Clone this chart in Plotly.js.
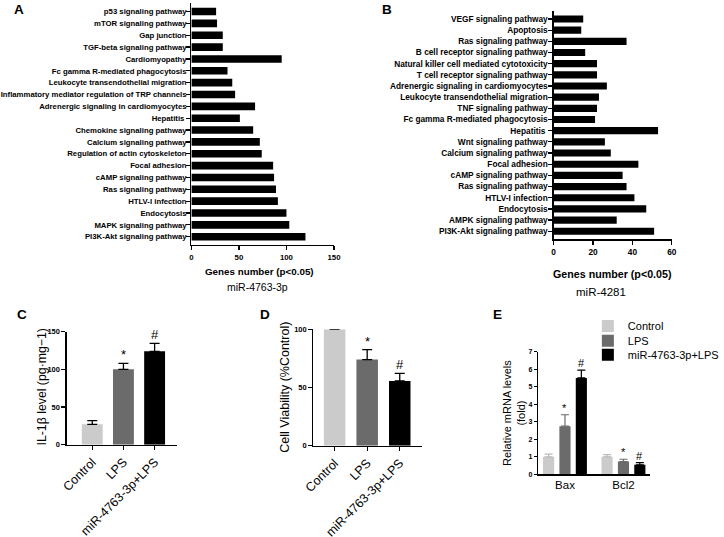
<!DOCTYPE html>
<html><head><meta charset="utf-8">
<script src="https://cdn.plot.ly/plotly-3.0.1.min.js"></script>
<style>html,body{margin:0;padding:0;background:#fff}#chart{width:724px;height:537px}</style>
</head><body><div id="chart"></div><script>
// ---- Panel A data (miR-4763-3p) ----
const pathwaysA = ["p53 signaling pathway","mTOR signaling pathway","Gap junction","TGF-beta signaling pathway","Cardiomyopathy","Fc gamma R-mediated phagocytosis","Leukocyte transendothelial migration","Inflammatory mediator regulation of TRP channels","Adrenergic signaling in cardiomyocytes","Hepatitis\u00a0","Chemokine signaling pathway","Calcium signaling pathway","Regulation of actin cytoskeleton","Focal adhesion","cAMP signaling pathway","Ras signaling pathway","HTLV-I infection","Endocytosis","MAPK signaling pathway","PI3K-Akt signaling pathway"];
const genesA = [26,27,33,33,95,38,43,46,67,51,65,72,74,86,87,89,91,100,103,120];
const ticksA = [0,50,100,150];
// ---- Panel B data (miR-4281) ----
const pathwaysB = ["VEGF signaling pathway","Apoptosis","Ras signaling pathway","B cell receptor signaling pathway","Natural killer cell mediated cytotoxicity","T cell receptor signaling pathway","Adrenergic signaling in cardiomyocytes","Leukocyte transendothelial migration","TNF signaling pathway","Fc gamma R-mediated phagocytosis","Hepatitis\u00a0","Wnt signaling pathway","Calcium signaling pathway","Focal adhesion","cAMP signaling pathway","Ras signaling pathway","HTLV-I infection","Endocytosis","AMPK signaling pathway","PI3K-Akt signaling pathway"];
const genesB = [15,14,37,16,22,22,27,23,22,21,53,26,29,43,35,37,41,47,32,51];
const ticksB = [0,20,40,60];
// ---- Panels C, D ----
const groups = ["Control","LPS","miR-4763-3p+LPS"];
const il1b = [27,100,124];
const il1bErr = [5,8,10.5];
const il1bMarks = ["","*","#"];
const viability = [100,74,55.6];
const viabilityErr = [0,8.6,6.6];
const viabilityMarks = ["","*","#"];
// ---- Panel E ----
const genesE = ["Bax","Bcl2"];
const seriesE = ["Control","LPS","miR-4763-3p+LPS"];
const mrna = [[1.0,1.0],[2.75,0.73],[5.5,0.54]];
const mrnaErr = [[0.15,0.12],[0.65,0.13],[0.45,0.13]];
const mrnaMarks = [["",""],["*","*"],["#","#"]];

const colors = ["#cbcbcb","#6b6b6b","#000000"];
const FF = "Liberation Sans, Arial, sans-serif";
const W = 724, H = 537;
const px = v => v / W, py = v => 1 - v / H;

const traces = [];
traces.push({type:'bar', orientation:'h', x:genesA, y:pathwaysA.map((_,i)=>i), width:0.64,
  marker:{color:'#000'}, xaxis:'x', yaxis:'y', showlegend:false, hoverinfo:'x+text', text:pathwaysA, textposition:'none'});
traces.push({type:'bar', orientation:'h', x:genesB, y:pathwaysB.map((_,i)=>i), width:0.64,
  marker:{color:'#000'}, xaxis:'x2', yaxis:'y2', showlegend:false, hoverinfo:'x+text', text:pathwaysB, textposition:'none'});
traces.push({type:'bar', x:groups, y:il1b, width:0.67, marker:{color:colors},
  error_y:{type:'data', symmetric:false, array:il1bErr, arrayminus:il1bErr.map(()=>0), color:'#000', thickness:1.3, width:5},
  xaxis:'x3', yaxis:'y3', showlegend:false});
traces.push({type:'bar', x:groups, y:viability, width:0.66, marker:{color:colors},
  error_y:{type:'data', symmetric:false, array:viabilityErr, arrayminus:viabilityErr.map(()=>0), color:'#000', thickness:1.3, width:5},
  xaxis:'x4', yaxis:'y4', showlegend:false});
const legendIds = ['legend','legend2','legend3'];
seriesE.forEach((s,t)=>{
  traces.push({type:'bar', name:s, x:genesE, y:mrna[t], marker:{color:colors[t]}, legend:legendIds[t], showlegend:true,
    error_y:{type:'data', symmetric:false, array:mrnaErr[t], arrayminus:mrnaErr[t].map(()=>0), color:colors[t]==='#cbcbcb'?'#bbbbbb':colors[t], thickness:1.2, width:4},
    xaxis:'x5', yaxis:'y5'});
});

const bargap = 0.16;
const ann = [];
function txt(text,x,y,size,opts){ ann.push(Object.assign({text:text, x:px(x), y:py(y), xref:'paper', yref:'paper', xanchor:'center', yanchor:'middle', showarrow:false, font:{family:FF,size:size,color:'#000'}}, opts||{})); }
const bold = s => ({font:{family:FF,size:s,color:'#000',weight:'bold'}});
txt("A",19,9,13.5,bold(13.5));
txt("B",396,9,13.5,bold(13.5));
txt("C",23,314,13.5,bold(13.5));
txt("D",271,314,13.5,bold(13.5));
txt("E",509,314,13.5,bold(13.5));
txt("Genes number (p<0.05)",266,271.5,9.8,bold(9.8));
txt("miR-4763-3p",264,286.5,10.5);
txt("Genes number (p<0.05)",627.5,274.3,10.7,bold(10.7));
txt("miR-4281",615,291.7,11.5);
txt("IL-1β level (pg·mg−1)",42,387.5,12.3,{textangle:-90});
txt("Cell Viability (%Control)",291,387.5,12.5,{textangle:-90});
txt("Relative mRNA levels<br>(fold)",525.8,412.5,11,{textangle:-90});

il1bMarks.forEach((m,i)=>{ if(m) ann.push({text:m, x:i, y:il1b[i]+il1bErr[i], xref:'x3', yref:'y3', xanchor:'center', yanchor:'bottom', showarrow:false, yshift:-1, font:{family:FF,size:13,color:'#000'}}); });
viabilityMarks.forEach((m,i)=>{ if(m) ann.push({text:m, x:i, y:viability[i]+viabilityErr[i], xref:'x4', yref:'y4', xanchor:'center', yanchor:'bottom', showarrow:false, yshift:-1, font:{family:FF,size:13,color:'#000'}}); });
mrnaMarks.forEach((row,t)=>row.forEach((m,g)=>{ if(m) ann.push({text:m, x:g+(t-1)*(1-bargap)/3, y:mrna[t][g]+mrnaErr[t][g], xref:'x5', yref:'y5', xanchor:'center', yanchor:'bottom', showarrow:false, yshift:-1, font:{family:FF,size:11,color:'#000'}}); }));

const line = {showline:true, linecolor:'#000', linewidth:1.3, ticks:'outside', ticklen:4, tickwidth:1.2, tickcolor:'#000', showgrid:false, zeroline:false, fixedrange:true};
const boldTick = s => ({family:FF, size:s, color:'#000', weight:'bold'});
const legendBase = {x:px(602), xanchor:'left', yanchor:'middle', bgcolor:'rgba(0,0,0,0)', borderwidth:0, font:{family:FF,size:11,color:'#000'}, itemwidth:30};
const layout = {
  width:W, height:H, margin:{l:0,r:0,t:0,b:0}, paper_bgcolor:'#fff', plot_bgcolor:'#fff',
  font:{family:FF, color:'#000'}, barmode:'group', bargap:bargap, bargroupgap:0.32,
  showlegend:true,
  legend:Object.assign({}, legendBase, {y:py(326)}),
  legend2:Object.assign({}, legendBase, {y:py(340.7)}),
  legend3:Object.assign({}, legendBase, {y:py(354.7)}),
  xaxis:Object.assign({}, line, {domain:[px(196),px(342)], range:[0,150], tickvals:ticksA, tickfont:boldTick(7.8), anchor:'y'}),
  yaxis:Object.assign({}, line, {domain:[py(245),py(3)], range:[19.7,-0.72], tickvals:pathwaysA.map((_,i)=>i), ticktext:pathwaysA, tickfont:boldTick(7.75), ticklabelstandoff:-2, anchor:'x', ticklen:4}),
  xaxis2:Object.assign({}, line, {domain:[px(567),px(688)], range:[0,60], tickvals:ticksB, tickfont:boldTick(8.3), anchor:'y2'}),
  yaxis2:Object.assign({}, line, {domain:[py(239.3),py(10.7)], range:[19.72,-0.74], tickvals:pathwaysB.map((_,i)=>i), ticktext:pathwaysB, tickfont:boldTick(8.3), ticklabelstandoff:-1, anchor:'x2'}),
  xaxis3:Object.assign({}, line, {domain:[px(68.3),px(181)], type:'category', range:[-0.82,2.71], tickangle:-45, tickfont:{family:FF,size:12.5,color:'#000'}, anchor:'y3'}),
  yaxis3:Object.assign({}, line, {domain:[py(444.7),py(331.7)], range:[0,150], tickvals:[0,50,100,150], tickfont:boldTick(7.5), anchor:'x3'}),
  xaxis4:Object.assign({}, line, {domain:[px(321),px(431.7)], type:'category', range:[-0.65,2.67], tickangle:-45, tickfont:{family:FF,size:12.5,color:'#000'}, anchor:'y4'}),
  yaxis4:Object.assign({}, line, {domain:[py(445.7),py(329.3)], range:[0,100], tickvals:[0,50,100], tickfont:boldTick(7.5), anchor:'x4'}),
  xaxis5:Object.assign({}, line, {domain:[px(551),px(665.7)], type:'category', range:[-0.46,1.455], ticks:'', tickfont:{family:FF,size:11.5,color:'#000'}, anchor:'y5'}),
  yaxis5:Object.assign({}, line, {domain:[py(474.3),py(351.7)], range:[0,7], tickvals:[0,1,2,3,4,5,6,7], ticklen:3, tickfont:boldTick(7), anchor:'x5'}),
  annotations:ann
};
Plotly.newPlot('chart', traces, layout, {staticPlot:true, displayModeBar:false});
</script></body></html>
